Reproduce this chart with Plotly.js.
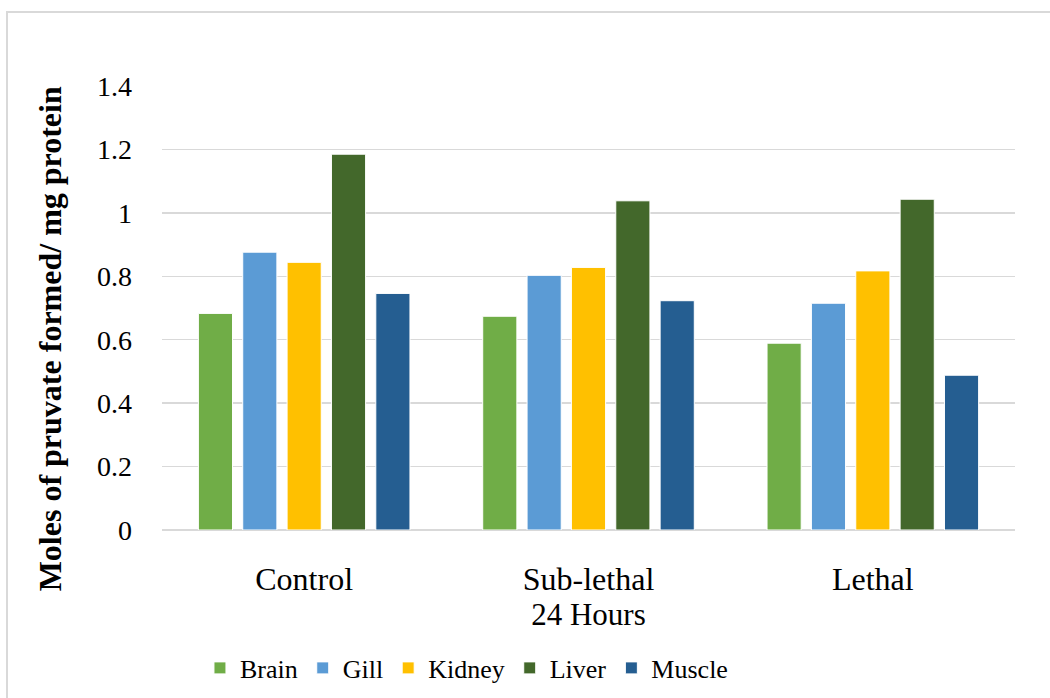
<!DOCTYPE html>
<html>
<head>
<meta charset="utf-8">
<script src="https://cdn.plot.ly/plotly-3.0.1.min.js"></script>
<style>
  html, body { margin: 0; padding: 0; background: #ffffff; }
  #wrap { position: relative; width: 1050px; height: 698px; overflow: hidden; }
  #chart { width: 1050px; height: 698px; }
  #frame {
    position: absolute; left: 6px; top: 11px; width: 1100px; height: 760px;
    border: 2px solid #d9d9d9; box-sizing: border-box; pointer-events: none;
  }
</style>
</head>
<body>
<div id="wrap">
  <div id="chart"></div>
  <div id="frame"></div>
</div>
<script>
// Exposure groups (24 hours)
const groups = ["Control", "Sub-lethal", "Lethal"];

// Moles of pyruvate formed per mg protein, by tissue
const brain  = [0.683, 0.674, 0.589];
const gill   = [0.876, 0.803, 0.715];
const kidney = [0.844, 0.828, 0.817];
const liver  = [1.185, 1.038, 1.043];
const muscle = [0.746, 0.723, 0.488];

const tissues = [
  { name: "Brain",  values: brain,  color: "#70AD47" },
  { name: "Gill",   values: gill,   color: "#5B9BD5" },
  { name: "Kidney", values: kidney, color: "#FFC000" },
  { name: "Liver",  values: liver,  color: "#43682B" },
  { name: "Muscle", values: muscle, color: "#255E91" }
];

const yTitle = "Moles of pruvate formed/ mg protein";
const xTitle = "24 Hours";

const serif = "Liberation Serif, Times New Roman, Times, serif";

const traces = tissues.map(t => ({
  type: "bar",
  name: t.name,
  x: groups,
  y: t.values,
  marker: { color: t.color, line: { color: "#ffffff", width: 1 } },
  hoverinfo: "x+y+name"
}));

const layout = {
  width: 1050,
  height: 698,
  margin: { l: 162, r: 35, t: 86, b: 168 },
  paper_bgcolor: "#ffffff",
  plot_bgcolor: "#ffffff",
  barmode: "group",
  bargap: 0.22,
  bargroupgap: 0.23,
  font: { family: serif, size: 28, color: "#000000" },
  xaxis: {
    type: "category",
    automargin: false,
    showgrid: false,
    showline: false,
    ticks: "",
    ticklabelstandoff: 27,
    tickfont: { family: serif, size: 32, color: "#000000" },
    title: { text: xTitle, font: { family: serif, size: 31, color: "#000000" }, standoff: 3 }
  },
  yaxis: {
    range: [0, 1.4],
    dtick: 0.2,
    tick0: 0,
    automargin: false,
    showgrid: true,
    gridcolor: "#d9d9d9",
    gridwidth: 1.5,
    zeroline: true,
    zerolinecolor: "#d9d9d9",
    zerolinewidth: 1.5,
    showline: false,
    ticks: "",
    ticklabelstandoff: 29,
    tickfont: { family: serif, size: 28, color: "#000000" }
  },
  annotations: [{
    text: "<b>" + yTitle + "</b>",
    textangle: -90,
    xref: "paper",
    yref: "paper",
    x: -0.131,
    y: 0.43,
    xanchor: "center",
    yanchor: "middle",
    showarrow: false,
    font: { family: serif, size: 32, color: "#000000" }
  }],
  legend: {
    orientation: "h",
    x: 0.0445,
    xanchor: "left",
    yref: "container",
    y: 0.043,
    yanchor: "middle",
    font: { family: serif, size: 26, color: "#000000" },
    itemwidth: 30,
    traceorder: "normal"
  },
  showlegend: true
};

Plotly.newPlot("chart", traces, layout, { displayModeBar: false, staticPlot: true });
</script>
</body>
</html>
